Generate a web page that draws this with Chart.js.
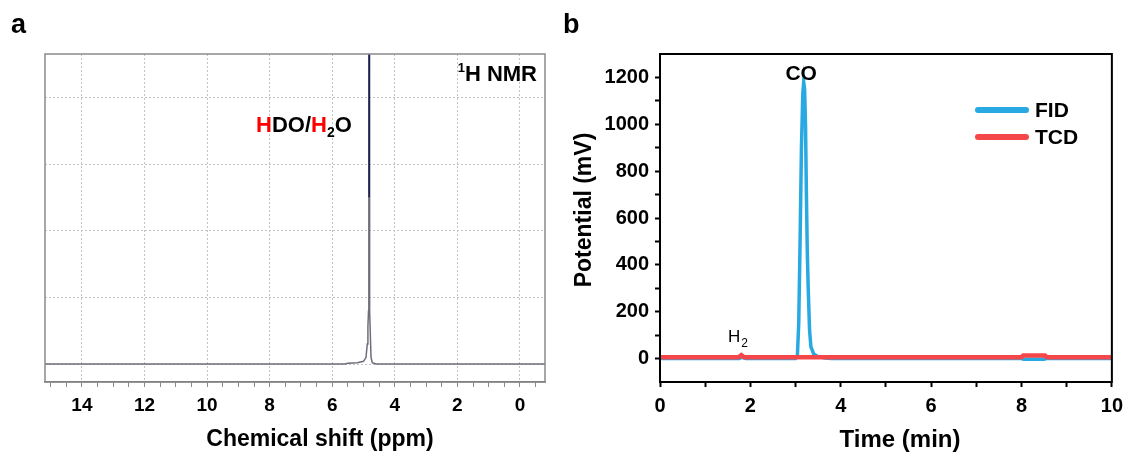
<!DOCTYPE html>
<html>
<head>
<meta charset="utf-8">
<script src="https://cdn.jsdelivr.net/npm/chart.js@4.4.1/dist/chart.umd.min.js"></script>
<style>
  html, body { margin: 0; padding: 0; background: #fff; }
  .panel { position: absolute; top: 0; height: 454px; }
  #left { left: 0; width: 560px; }
  #right { left: 560px; width: 570px; }
</style>
</head>
<body>
<div class="panel" id="left"><canvas id="nmrChart"></canvas></div>
<div class="panel" id="right"><canvas id="gcChart"></canvas></div>
<script>
// panel a : 1H NMR spectrum
const nmrShift     = [15.2, 5.6, 5.5, 5.2, 5.0, 4.92, 4.88, 4.86, 4.84, 4.83, 4.82, 4.81, 4.80, 4.78, 4.76, 4.72, 4.6, -0.8];
const nmrIntensity = [0,    0,   0.01, 0.02, 0.04, 0.1, 0.3, 0.56, 0.8, 2.5, 7,    2.5,  0.8,  0.4,  0.1,  0.02, 0,   0];
const peakTopShift = [4.82, 4.82];
const peakTopValue = [2.5, 7];
const ppmTicks = [14, 12, 10, 8, 6, 4, 2, 0];

// panel b : GC traces
const fidTime   = [0, 1.75, 1.82, 1.9, 3.0, 3.04, 3.07, 3.10, 3.13, 3.16, 3.18, 3.20, 3.22, 3.24, 3.26, 3.28, 3.31, 3.34, 3.40, 3.50, 3.65, 3.8, 8.0, 8.05, 8.5, 8.55, 10];
const fidSignal = [0, 0,    5,    0,   0,   10,   150,  500,  900,  1130, 1180, 1150, 1000, 700,  450,  300,  120,  50,   20,   8,    2,    0,   0,   -3,   -3,  0,    0];
const tcdTime   = [0, 1.74, 1.8, 1.86, 8.0, 8.04, 8.52, 8.56, 10];
const tcdSignal = [6, 6,    15,  6,    6,   13,   13,   6,    6];
const timeTicks = [0, 2, 4, 6, 8, 10];
const potentialTicks = [0, 200, 400, 600, 800, 1000, 1200];

const FONT = "'Liberation Sans', Arial, sans-serif";
Chart.defaults.font.family = FONT;
Chart.defaults.color = '#000';

function pts(xs, ys) {
    return xs.map((x, i) => ({ x: x, y: ys[i] }));
}

function boldText(ctx, txt, x, y, size, align) {
    ctx.font = 'bold ' + size + 'px ' + FONT;
    ctx.textAlign = align || 'left';
    ctx.fillText(txt, x, y);
}

// frame, labels and titles of panel a
const nmrDecor = {
    id: 'nmrDecor',
    afterDraw(chart) {
        const { ctx, chartArea: a } = chart;
        ctx.save();
        ctx.strokeStyle = '#8a8a8a';
        ctx.lineWidth = 1.5;
        ctx.strokeRect(a.left, a.top, a.right - a.left, a.bottom - a.top);

        ctx.fillStyle = '#000';
        ctx.textBaseline = 'alphabetic';
        boldText(ctx, 'a', 11, 33, 27);

        // 1H NMR
        ctx.font = 'bold 22px ' + FONT;
        const w = ctx.measureText('H NMR').width;
        boldText(ctx, 'H NMR', 537, 81, 22, 'right');
        boldText(ctx, '1', 537 - w, 72, 13, 'right');

        // HDO/H2O with red protons
        const parts = [
            { t: 'H', c: '#ff0000' }, { t: 'DO/', c: '#000' },
            { t: 'H', c: '#ff0000' }, { t: '2', c: '#000', sub: true }, { t: 'O', c: '#000' }
        ];
        let x = 256;
        parts.forEach(p => {
            const size = p.sub ? 14 : 22;
            ctx.font = 'bold ' + size + 'px ' + FONT;
            ctx.fillStyle = p.c;
            ctx.textAlign = 'left';
            ctx.fillText(p.t, x, p.sub ? 137 : 132);
            x += ctx.measureText(p.t).width;
        });

        ctx.fillStyle = '#000';
        ctx.textBaseline = 'middle';
        boldText(ctx, 'Chemical shift (ppm)', 320, 440, 23, 'center');
        ctx.restore();
    }
};

// frame, legend, labels and titles of panel b
const gcDecor = {
    id: 'gcDecor',
    afterDraw(chart) {
        const { ctx, chartArea: a, scales } = chart;
        ctx.save();
        ctx.strokeStyle = '#000';
        ctx.lineWidth = 2;
        ctx.strokeRect(a.left, a.top, a.right - a.left, a.bottom - a.top);

        ctx.fillStyle = '#000';
        ctx.textBaseline = 'alphabetic';
        boldText(ctx, 'b', 3, 33, 27);

        // peak labels
        const coX = scales.x.getPixelForValue(3.19) - 3;
        const coY = scales.y.getPixelForValue(1180) - 2;
        boldText(ctx, 'CO', coX, coY, 21, 'center');
        ctx.font = '17px ' + FONT;
        ctx.textAlign = 'left';
        ctx.fillText('H', 168, 342);
        const hw = ctx.measureText('H').width;
        ctx.font = '12px ' + FONT;
        ctx.fillText('2', 168 + hw + 1, 347);

        // legend
        chart.data.datasets.forEach((ds, i) => {
            const y = 110 + i * 27;
            ctx.strokeStyle = ds.borderColor;
            ctx.lineWidth = 6;
            ctx.lineCap = 'round';
            ctx.beginPath();
            ctx.moveTo(418, y);
            ctx.lineTo(466, y);
            ctx.stroke();
            ctx.textBaseline = 'middle';
            boldText(ctx, ds.label, 475, y + 1, 21);
        });

        // axis titles
        ctx.textBaseline = 'middle';
        boldText(ctx, 'Time (min)', 340, 440, 24, 'center');
        ctx.translate(25, 210);
        ctx.rotate(-Math.PI / 2);
        boldText(ctx, 'Potential (mV)', 0, 0, 23, 'center');
        ctx.restore();
    }
};

new Chart(document.getElementById('nmrChart').getContext('2d'), {
    type: 'line',
    data: {
        datasets: [{
            label: 'peak top',
            data: pts(peakTopShift, peakTopValue),
            borderColor: '#1b1b55',
            borderWidth: 1.6,
            pointRadius: 0
        }, {
            label: '1H NMR',
            data: pts(nmrShift, nmrIntensity),
            borderColor: '#6e6e78',
            borderWidth: 1.5,
            pointRadius: 0,
            tension: 0
        }]
    },
    options: {
        responsive: true,
        maintainAspectRatio: false,
        animation: false,
        layout: { padding: { top: 54, right: 15, left: 0, bottom: 0 } },
        plugins: { legend: { display: false }, tooltip: { enabled: false } },
        scales: {
            x: {
                type: 'linear',
                reverse: true,
                min: -0.8,
                max: 15.18,
                afterFit(s) { s.height = 72; },
                ticks: {
                    stepSize: 0.5,
                    includeBounds: false,
                    autoSkip: false,
                    maxRotation: 0,
                    padding: 7,
                    color: '#000',
                    font: { size: 19, weight: 'bold' },
                    callback: v => ppmTicks.includes(v) ? String(v) : ''
                },
                grid: {
                    color: c => ppmTicks.includes(c.tick && c.tick.value) ? '#c2c2c2' : 'rgba(0,0,0,0)',
                    tickColor: '#8a8a8a',
                    tickLength: 5,
                    lineWidth: 1
                },
                border: { color: '#6a6a6a', width: 1.5, dash: [2, 2] }
            },
            y: {
                type: 'linear',
                min: -0.27,
                max: 4.65,
                afterFit(s) { s.width = 45; },
                ticks: { display: false, stepSize: 1, includeBounds: false },
                grid: { color: '#c2c2c2', drawTicks: false, lineWidth: 1 },
                border: { display: false, dash: [2, 2] }
            }
        }
    },
    plugins: [nmrDecor]
});

new Chart(document.getElementById('gcChart').getContext('2d'), {
    type: 'line',
    data: {
        datasets: [{
            label: 'FID',
            data: pts(fidTime, fidSignal),
            borderColor: '#29a9e1',
            borderWidth: 3.5,
            pointRadius: 0,
            tension: 0,
            order: 1
        }, {
            label: 'TCD',
            data: pts(tcdTime, tcdSignal),
            borderColor: '#f5474a',
            borderWidth: 4.5,
            pointRadius: 0,
            tension: 0,
            order: 0
        }]
    },
    options: {
        responsive: true,
        maintainAspectRatio: false,
        animation: false,
        layout: { padding: { top: 54, right: 15, left: 0, bottom: 0 } },
        plugins: { legend: { display: false }, tooltip: { enabled: false } },
        scales: {
            x: {
                type: 'linear',
                min: 0,
                max: 10,
                afterFit(s) { s.height = 72; },
                ticks: {
                    stepSize: 1,
                    autoSkip: false,
                    maxRotation: 0,
                    padding: 7,
                    color: '#000',
                    font: { size: 20, weight: 'bold' },
                    callback: v => timeTicks.includes(v) ? String(v) : ''
                },
                grid: { drawOnChartArea: false, tickColor: '#000', tickWidth: 2, tickLength: 5 },
                border: { color: '#000', width: 2 }
            },
            y: {
                type: 'linear',
                min: -100,
                max: 1300,
                afterFit(s) { s.width = 100; },
                ticks: {
                    stepSize: 100,
                    autoSkip: false,
                    padding: 6,
                    color: '#000',
                    font: { size: 20, weight: 'bold' },
                    callback: v => potentialTicks.includes(v) ? String(v) : ''
                },
                grid: {
                    drawOnChartArea: false,
                    tickColor: c => (c.tick && (c.tick.value === -100 || c.tick.value === 1300)) ? 'rgba(0,0,0,0)' : '#000',
                    tickWidth: 2,
                    tickLength: 5
                },
                border: { color: '#000', width: 2 }
            }
        }
    },
    plugins: [gcDecor]
});
</script>
</body>
</html>
